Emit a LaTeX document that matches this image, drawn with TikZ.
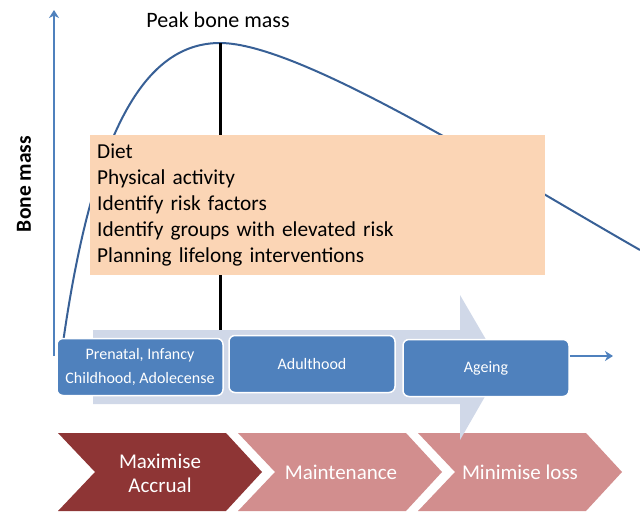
\documentclass[tikz,border=0pt]{standalone}
\usepackage{fontspec}
\setmainfont{Carlito}
\usetikzlibrary{arrows.meta}
\definecolor{axisblue}{RGB}{79,129,189}
\definecolor{curveblue}{RGB}{56,96,150}
\definecolor{peach}{RGB}{251,213,181}
\definecolor{pale}{RGB}{208,216,232}
\definecolor{boxblue}{RGB}{79,129,189}
\definecolor{darkred}{RGB}{142,53,53}
\definecolor{rose}{RGB}{210,142,142}
\tikzset{
  stage/.style={draw=white, line width=1.5pt, fill=boxblue, rounded corners=6pt,
    minimum width=166pt, minimum height=57pt, text=white, align=center,
    font=\fontsize{16}{24}\selectfont},
  goal/.style={text=white, align=center, font=\fontsize{21}{24}\selectfont},
  axis/.style={axisblue, line width=2.2pt, -{Stealth[length=8pt,width=10pt,inset=2.5pt]}},
}
\begin{document}
\begin{tikzpicture}[x=1pt,y=-1pt]
\useasboundingbox (0,0) rectangle (640,513);
% Chevrons
\foreach \x/\col in {58/darkred,238/rose,418/rose} {
    \fill[\col] (\x,433) -- ++(168,0) -- ++(36,39) -- ++(-36,39) -- ++(-168,0) -- ++(37,-39) -- cycle;
}
\node[goal] (accrual) at (160,473) {Maximise\\Accrual};
\node[goal] (maint) at (341,472) {Maintenance};
\node[goal] (loss) at (520,472) {Minimise loss};
% Bone mass curve
\coordinate (start) at (62,350);
\coordinate (peak) at (220,43);
\coordinate (tail) at (640,250);
\draw[curveblue, line width=2pt] (start) .. controls (94,118) and (150,43) .. (peak)
    .. controls (300,43) and (500,170) .. (tail);
\node[font=\fontsize{22}{26}\selectfont] (peaklbl) at (218,20) {Peak bone mass};
\coordinate (foot) at (220,330);
\draw[line width=3pt] (peak) -- (foot);
% Interventions
\node[fill=peach, anchor=north west, minimum width=455pt, minimum height=140pt,
    text width=441pt, inner xsep=7pt, align=left, font=\fontsize{21.3}{26}\selectfont]
    (tips) at (90,135) {Diet\\Physical activity\\Identify risk factors\\Identify groups with elevated risk\\Planning lifelong interventions};
% Axes
\coordinate (o) at (54,356);
\coordinate (ytop) at (54,10);
\draw[axis] (o) -- (ytop);
\node[rotate=90, font=\bfseries\fontsize{21.5}{24}\selectfont] (ylbl) at (24,184) {Bone mass};
% Life course arrow
\fill[pale] (93,330) -- (460,330) -- (460,295) -- (502,367) -- (460,440) -- (460,404) -- (93,404) -- cycle;
\node[stage] (early) at (140,367) {Prenatal, Infancy\\Childhood, Adolecense};
\node[stage] (adult) at (312,364) {Adulthood};
\node[stage] (ageing) at (486,368) {Ageing};
\coordinate (xend) at (613,356);
\draw[axis] (ageing.east |- o) -- (xend);
\end{tikzpicture}
\end{document}
